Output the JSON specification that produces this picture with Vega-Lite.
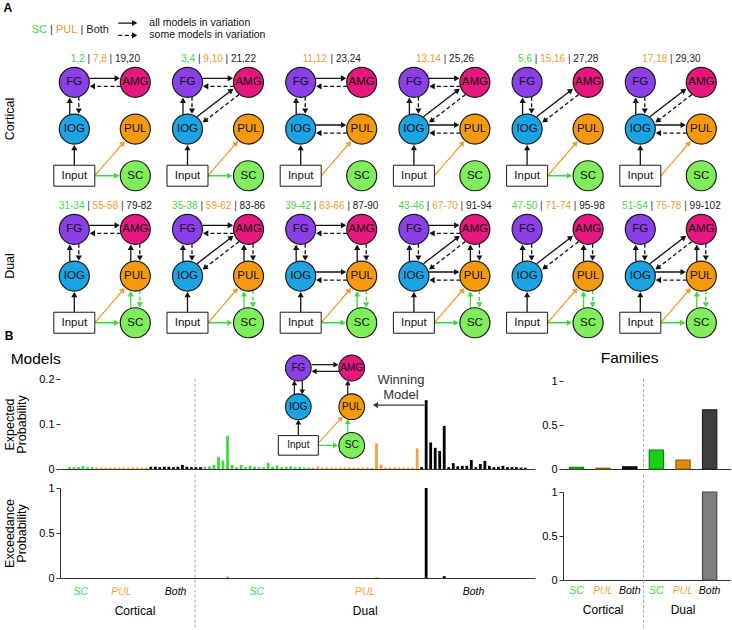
{
  "$schema": "https://vega.github.io/schema/vega-lite/v6.json",
  "padding": {"left": 3, "top": 2, "right": 0, "bottom": 0},
  "config": {
    "view": {"stroke": null},
    "font": "Liberation Sans",
    "axis": {"labelFont": "Liberation Sans", "titleFont": "Liberation Sans", "labelFontSize": 11, "labelColor": "#000", "titleColor": "#000", "titleFontWeight": "normal", "titleFontSize": 12.5, "domainColor": "#333", "tickColor": "#333", "tickSize": 4, "grid": false, "labelPadding": 2},
    "title": {"font": "Liberation Sans", "color": "#000"},
    "header": {"labelFont": "Liberation Sans", "labelColor": "#000"},
    "text": {"font": "Liberation Sans"}
  },
  "resolve": {"scale": {"color": "independent", "fill": "independent", "stroke": "independent", "strokeDash": "independent"}},
  "datasets": {
    "diagrams": [
      {"kind": "legend", "family": "Cortical", "variation": 1, "sc": "SC", "pul": "PUL", "both": "Both", "notes": ["all models in variation", "some models in variation"], "items": ["L:LG", "LgSolid", "LgDashed"]},
      {"kind": "diagram", "family": "Cortical", "variation": 1, "sc": "1,2", "pul": "7,8", "both": "19,20", "items": ["FG", "AMG", "IOG", "PUL", "SC", "Input", "L:D", "FG>AMG", "AMG>FG", "IOG>FG", "FG>IOG", "In>IOG", "In>PUL", "In>SC"]},
      {"kind": "diagram", "family": "Cortical", "variation": 2, "sc": "3,4", "pul": "9,10", "both": "21,22", "items": ["FG", "AMG", "IOG", "PUL", "SC", "Input", "L:D", "FG>AMG", "AMG>FG", "IOG>FG", "FG>IOG", "IOG>AMG", "AMG>IOG", "In>IOG", "In>PUL", "In>SC"]},
      {"kind": "diagram", "family": "Cortical", "variation": 3, "sc": "", "pul": "11,12", "both": "23,24", "items": ["FG", "AMG", "IOG", "PUL", "SC", "Input", "L:D", "FG>AMG", "AMG>FG", "IOG>FG", "FG>IOG", "IOG>PUL", "PUL>IOG", "In>IOG", "In>PUL"]},
      {"kind": "diagram", "family": "Cortical", "variation": 4, "sc": "", "pul": "13,14", "both": "25,26", "items": ["FG", "AMG", "IOG", "PUL", "SC", "Input", "L:D", "FG>AMG", "AMG>FG", "IOG>FG", "FG>IOG", "IOG>AMG", "AMG>IOG", "IOG>PUL", "PUL>IOG", "In>IOG", "In>PUL"]},
      {"kind": "diagram", "family": "Cortical", "variation": 5, "sc": "5,6", "pul": "15,16", "both": "27,28", "items": ["FG", "AMG", "IOG", "PUL", "SC", "Input", "L:D", "IOG>FG", "FG>IOG", "IOG>AMG", "AMG>IOG", "In>IOG", "In>PUL", "In>SC"]},
      {"kind": "diagram", "family": "Cortical", "variation": 6, "sc": "", "pul": "17,18", "both": "29,30", "items": ["FG", "AMG", "IOG", "PUL", "SC", "Input", "L:D", "IOG>FG", "FG>IOG", "IOG>AMG", "AMG>IOG", "IOG>PUL", "PUL>IOG", "In>IOG", "In>PUL"]},
      {"kind": "diagram", "family": "Dual", "variation": 1, "sc": "31-34", "pul": "55-58", "both": "79-82", "items": ["FG", "AMG", "IOG", "PUL", "SC", "Input", "L:D", "FG>AMG", "AMG>FG", "IOG>FG", "FG>IOG", "PUL>AMG", "AMG>PUL", "SC>PUL", "PUL>SC", "In>IOG", "In>PUL", "In>SC"]},
      {"kind": "diagram", "family": "Dual", "variation": 2, "sc": "35-38", "pul": "59-62", "both": "83-86", "items": ["FG", "AMG", "IOG", "PUL", "SC", "Input", "L:D", "FG>AMG", "AMG>FG", "IOG>FG", "FG>IOG", "IOG>AMG", "AMG>IOG", "PUL>AMG", "AMG>PUL", "SC>PUL", "PUL>SC", "In>IOG", "In>PUL", "In>SC"]},
      {"kind": "diagram", "family": "Dual", "variation": 3, "sc": "39-42", "pul": "63-66", "both": "87-90", "items": ["FG", "AMG", "IOG", "PUL", "SC", "Input", "L:D", "FG>AMG", "AMG>FG", "IOG>FG", "FG>IOG", "IOG>PUL", "PUL>IOG", "PUL>AMG", "AMG>PUL", "SC>PUL", "PUL>SC", "In>IOG", "In>PUL", "In>SC"]},
      {"kind": "diagram", "family": "Dual", "variation": 4, "sc": "43-46", "pul": "67-70", "both": "91-94", "items": ["FG", "AMG", "IOG", "PUL", "SC", "Input", "L:D", "FG>AMG", "AMG>FG", "IOG>FG", "FG>IOG", "IOG>AMG", "AMG>IOG", "IOG>PUL", "PUL>IOG", "PUL>AMG", "AMG>PUL", "SC>PUL", "PUL>SC", "In>IOG", "In>PUL", "In>SC"]},
      {"kind": "diagram", "family": "Dual", "variation": 5, "sc": "47-50", "pul": "71-74", "both": "95-98", "items": ["FG", "AMG", "IOG", "PUL", "SC", "Input", "L:D", "IOG>FG", "FG>IOG", "IOG>AMG", "AMG>IOG", "PUL>AMG", "AMG>PUL", "SC>PUL", "PUL>SC", "In>IOG", "In>PUL", "In>SC"]},
      {"kind": "diagram", "family": "Dual", "variation": 6, "sc": "51-54", "pul": "75-78", "both": "99-102", "items": ["FG", "AMG", "IOG", "PUL", "SC", "Input", "L:D", "IOG>FG", "FG>IOG", "IOG>AMG", "AMG>IOG", "IOG>PUL", "PUL>IOG", "PUL>AMG", "AMG>PUL", "SC>PUL", "PUL>SC", "In>IOG", "In>PUL", "In>SC"]}
    ],
    "partLayout": [
      {"item": "FG", "part": "circle", "gx": 0, "gy": 0},
      {"item": "AMG", "part": "circle", "gx": 1, "gy": 0},
      {"item": "IOG", "part": "circle", "gx": 0, "gy": 1},
      {"item": "PUL", "part": "circle", "gx": 1, "gy": 1},
      {"item": "SC", "part": "circle", "gx": 1, "gy": 2},
      {"item": "Input", "part": "box", "gx": 0, "gy": 2},
      {"item": "L:D", "part": "label", "lc": 0.51, "ly": -0.5, "fs": 10},
      {"item": "L:LG", "part": "label", "lx": -0.698, "ly": -1.12, "fs": 11},
      {"item": "FG>AMG", "part": "edge", "x1": 0.246, "y1": -0.086, "x2": 0.703, "y2": -0.086, "ang": 90, "style": "solid", "tone": "k"},
      {"item": "AMG>FG", "part": "edge", "x1": 0.762, "y1": 0.086, "x2": 0.297, "y2": 0.086, "ang": 270, "style": "dashed", "tone": "k"},
      {"item": "IOG>FG", "part": "edge", "x1": -0.074, "y1": 0.694, "x2": -0.074, "y2": 0.383, "ang": 0, "style": "solid", "tone": "k"},
      {"item": "FG>IOG", "part": "edge", "x1": 0.074, "y1": 0.306, "x2": 0.074, "y2": 0.617, "ang": 180, "style": "dashed", "tone": "k"},
      {"item": "IOG>AMG", "part": "edge", "x1": 0.156, "y1": 0.737, "x2": 0.718, "y2": 0.173, "ang": 52.6, "style": "solid", "tone": "k"},
      {"item": "AMG>IOG", "part": "edge", "x1": 0.844, "y1": 0.263, "x2": 0.282, "y2": 0.827, "ang": 232.6, "style": "dashed", "tone": "k"},
      {"item": "IOG>PUL", "part": "edge", "x1": 0.238, "y1": 0.914, "x2": 0.703, "y2": 0.914, "ang": 90, "style": "solid", "tone": "k"},
      {"item": "PUL>IOG", "part": "edge", "x1": 0.762, "y1": 1.086, "x2": 0.297, "y2": 1.086, "ang": 270, "style": "dashed", "tone": "k"},
      {"item": "PUL>AMG", "part": "edge", "x1": 0.926, "y1": 0.694, "x2": 0.926, "y2": 0.383, "ang": 0, "style": "solid", "tone": "k"},
      {"item": "AMG>PUL", "part": "edge", "x1": 1.074, "y1": 0.306, "x2": 1.074, "y2": 0.617, "ang": 180, "style": "dashed", "tone": "k"},
      {"item": "SC>PUL", "part": "edge", "x1": 0.926, "y1": 1.694, "x2": 0.926, "y2": 1.383, "ang": 0, "style": "solid", "tone": "g"},
      {"item": "PUL>SC", "part": "edge", "x1": 1.074, "y1": 1.306, "x2": 1.074, "y2": 1.617, "ang": 180, "style": "dashed", "tone": "g"},
      {"item": "In>IOG", "part": "edge", "x1": 0, "y1": 1.775, "x2": 0, "y2": 1.398, "ang": 0, "style": "solid", "tone": "k"},
      {"item": "In>PUL", "part": "edge", "x1": 0.336, "y1": 2, "x2": 0.8, "y2": 1.3, "ang": 40.9, "style": "solid", "tone": "o"},
      {"item": "In>SC", "part": "edge", "x1": 0.336, "y1": 2, "x2": 0.695, "y2": 2, "ang": 90, "style": "solid", "tone": "g"},
      {"item": "LgSolid", "part": "edge", "x1": 0.721, "y1": -1.27, "x2": 0.99, "y2": -1.27, "ang": 90, "style": "solid", "tone": "k", "idx": 0},
      {"item": "LgDashed", "part": "edge", "x1": 0.721, "y1": -1.006, "x2": 0.99, "y2": -1.006, "ang": 90, "style": "dashed", "tone": "k", "idx": 1}
    ],
    "insetNodes": [{"item": "FG"}, {"item": "AMG"}, {"item": "IOG"}, {"item": "PUL"}, {"item": "SC"}, {"item": "Input"}],
    "insetEdges": [{"item": "FG>AMG"}, {"item": "AMG>FG"}, {"item": "IOG>FG"}, {"item": "FG>IOG"}, {"item": "PUL>AMG"}, {"item": "SC>PUL"}, {"item": "In>IOG"}, {"item": "In>PUL"}, {"item": "In>SC"}],
    "families": [
      {"group": "Cortical SC", "family": "Cortical", "sub": "SC", "expected": 0.02, "exceedance": 0},
      {"group": "Cortical PUL", "family": "Cortical", "sub": "PUL", "expected": 0.008, "exceedance": 0},
      {"group": "Cortical Both", "family": "Cortical", "sub": "Both", "expected": 0.025, "exceedance": 0},
      {"group": "Dual SC", "family": "Dual", "sub": "SC", "expected": 0.215, "exceedance": 0},
      {"group": "Dual PUL", "family": "Dual", "sub": "PUL", "expected": 0.1, "exceedance": 0},
      {"group": "Dual Both", "family": "Dual", "sub": "Both", "expected": 0.673, "exceedance": 1}
    ],
    "models": [
      {"model": 1, "family": "Cortical", "sub": "SC", "expected": 0.004, "exceedance": 0},
      {"model": 2, "family": "Cortical", "sub": "SC", "expected": 0.004, "exceedance": 0},
      {"model": 3, "family": "Cortical", "sub": "SC", "expected": 0.004, "exceedance": 0},
      {"model": 4, "family": "Cortical", "sub": "SC", "expected": 0.007, "exceedance": 0},
      {"model": 5, "family": "Cortical", "sub": "SC", "expected": 0.004, "exceedance": 0},
      {"model": 6, "family": "Cortical", "sub": "SC", "expected": 0.004, "exceedance": 0},
      {"model": 7, "family": "Cortical", "sub": "PUL", "expected": 0.003, "exceedance": 0},
      {"model": 8, "family": "Cortical", "sub": "PUL", "expected": 0.003, "exceedance": 0},
      {"model": 9, "family": "Cortical", "sub": "PUL", "expected": 0.003, "exceedance": 0},
      {"model": 10, "family": "Cortical", "sub": "PUL", "expected": 0.003, "exceedance": 0},
      {"model": 11, "family": "Cortical", "sub": "PUL", "expected": 0.003, "exceedance": 0},
      {"model": 12, "family": "Cortical", "sub": "PUL", "expected": 0.003, "exceedance": 0},
      {"model": 13, "family": "Cortical", "sub": "PUL", "expected": 0.003, "exceedance": 0},
      {"model": 14, "family": "Cortical", "sub": "PUL", "expected": 0.003, "exceedance": 0},
      {"model": 15, "family": "Cortical", "sub": "PUL", "expected": 0.003, "exceedance": 0},
      {"model": 16, "family": "Cortical", "sub": "PUL", "expected": 0.003, "exceedance": 0},
      {"model": 17, "family": "Cortical", "sub": "PUL", "expected": 0.003, "exceedance": 0},
      {"model": 18, "family": "Cortical", "sub": "PUL", "expected": 0.003, "exceedance": 0},
      {"model": 19, "family": "Cortical", "sub": "Both", "expected": 0.005, "exceedance": 0},
      {"model": 20, "family": "Cortical", "sub": "Both", "expected": 0.005, "exceedance": 0},
      {"model": 21, "family": "Cortical", "sub": "Both", "expected": 0.004, "exceedance": 0},
      {"model": 22, "family": "Cortical", "sub": "Both", "expected": 0.005, "exceedance": 0},
      {"model": 23, "family": "Cortical", "sub": "Both", "expected": 0.005, "exceedance": 0},
      {"model": 24, "family": "Cortical", "sub": "Both", "expected": 0.004, "exceedance": 0},
      {"model": 25, "family": "Cortical", "sub": "Both", "expected": 0.005, "exceedance": 0},
      {"model": 26, "family": "Cortical", "sub": "Both", "expected": 0.009, "exceedance": 0},
      {"model": 27, "family": "Cortical", "sub": "Both", "expected": 0.005, "exceedance": 0},
      {"model": 28, "family": "Cortical", "sub": "Both", "expected": 0.004, "exceedance": 0},
      {"model": 29, "family": "Cortical", "sub": "Both", "expected": 0.004, "exceedance": 0},
      {"model": 30, "family": "Cortical", "sub": "Both", "expected": 0.004, "exceedance": 0},
      {"model": 31, "family": "Dual", "sub": "SC", "expected": 0.005, "exceedance": 0},
      {"model": 32, "family": "Dual", "sub": "SC", "expected": 0.006, "exceedance": 0},
      {"model": 33, "family": "Dual", "sub": "SC", "expected": 0.009, "exceedance": 0},
      {"model": 34, "family": "Dual", "sub": "SC", "expected": 0.027, "exceedance": 0},
      {"model": 35, "family": "Dual", "sub": "SC", "expected": 0.019, "exceedance": 0},
      {"model": 36, "family": "Dual", "sub": "SC", "expected": 0.074, "exceedance": 0.015},
      {"model": 37, "family": "Dual", "sub": "SC", "expected": 0.009, "exceedance": 0},
      {"model": 38, "family": "Dual", "sub": "SC", "expected": 0.004, "exceedance": 0},
      {"model": 39, "family": "Dual", "sub": "SC", "expected": 0.009, "exceedance": 0},
      {"model": 40, "family": "Dual", "sub": "SC", "expected": 0.004, "exceedance": 0},
      {"model": 41, "family": "Dual", "sub": "SC", "expected": 0.007, "exceedance": 0},
      {"model": 42, "family": "Dual", "sub": "SC", "expected": 0.005, "exceedance": 0},
      {"model": 43, "family": "Dual", "sub": "SC", "expected": 0.004, "exceedance": 0},
      {"model": 44, "family": "Dual", "sub": "SC", "expected": 0.004, "exceedance": 0},
      {"model": 45, "family": "Dual", "sub": "SC", "expected": 0.014, "exceedance": 0},
      {"model": 46, "family": "Dual", "sub": "SC", "expected": 0.005, "exceedance": 0},
      {"model": 47, "family": "Dual", "sub": "SC", "expected": 0.008, "exceedance": 0},
      {"model": 48, "family": "Dual", "sub": "SC", "expected": 0.004, "exceedance": 0},
      {"model": 49, "family": "Dual", "sub": "SC", "expected": 0.005, "exceedance": 0},
      {"model": 50, "family": "Dual", "sub": "SC", "expected": 0.006, "exceedance": 0},
      {"model": 51, "family": "Dual", "sub": "SC", "expected": 0.004, "exceedance": 0},
      {"model": 52, "family": "Dual", "sub": "SC", "expected": 0.004, "exceedance": 0},
      {"model": 53, "family": "Dual", "sub": "SC", "expected": 0.003, "exceedance": 0},
      {"model": 54, "family": "Dual", "sub": "SC", "expected": 0.003, "exceedance": 0},
      {"model": 55, "family": "Dual", "sub": "PUL", "expected": 0.003, "exceedance": 0},
      {"model": 56, "family": "Dual", "sub": "PUL", "expected": 0.006, "exceedance": 0},
      {"model": 57, "family": "Dual", "sub": "PUL", "expected": 0.003, "exceedance": 0},
      {"model": 58, "family": "Dual", "sub": "PUL", "expected": 0.003, "exceedance": 0},
      {"model": 59, "family": "Dual", "sub": "PUL", "expected": 0.003, "exceedance": 0},
      {"model": 60, "family": "Dual", "sub": "PUL", "expected": 0.003, "exceedance": 0},
      {"model": 61, "family": "Dual", "sub": "PUL", "expected": 0.003, "exceedance": 0},
      {"model": 62, "family": "Dual", "sub": "PUL", "expected": 0.003, "exceedance": 0},
      {"model": 63, "family": "Dual", "sub": "PUL", "expected": 0.003, "exceedance": 0},
      {"model": 64, "family": "Dual", "sub": "PUL", "expected": 0.003, "exceedance": 0},
      {"model": 65, "family": "Dual", "sub": "PUL", "expected": 0.003, "exceedance": 0},
      {"model": 66, "family": "Dual", "sub": "PUL", "expected": 0.003, "exceedance": 0},
      {"model": 67, "family": "Dual", "sub": "PUL", "expected": 0.003, "exceedance": 0},
      {"model": 68, "family": "Dual", "sub": "PUL", "expected": 0.003, "exceedance": 0},
      {"model": 69, "family": "Dual", "sub": "PUL", "expected": 0.057, "exceedance": 0.01},
      {"model": 70, "family": "Dual", "sub": "PUL", "expected": 0.01, "exceedance": 0},
      {"model": 71, "family": "Dual", "sub": "PUL", "expected": 0.003, "exceedance": 0},
      {"model": 72, "family": "Dual", "sub": "PUL", "expected": 0.003, "exceedance": 0},
      {"model": 73, "family": "Dual", "sub": "PUL", "expected": 0.003, "exceedance": 0},
      {"model": 74, "family": "Dual", "sub": "PUL", "expected": 0.003, "exceedance": 0},
      {"model": 75, "family": "Dual", "sub": "PUL", "expected": 0.003, "exceedance": 0},
      {"model": 76, "family": "Dual", "sub": "PUL", "expected": 0.003, "exceedance": 0},
      {"model": 77, "family": "Dual", "sub": "PUL", "expected": 0.003, "exceedance": 0},
      {"model": 78, "family": "Dual", "sub": "PUL", "expected": 0.046, "exceedance": 0},
      {"model": 79, "family": "Dual", "sub": "Both", "expected": 0.004, "exceedance": 0},
      {"model": 80, "family": "Dual", "sub": "Both", "expected": 0.153, "exceedance": 1},
      {"model": 81, "family": "Dual", "sub": "Both", "expected": 0.059, "exceedance": 0},
      {"model": 82, "family": "Dual", "sub": "Both", "expected": 0.047, "exceedance": 0},
      {"model": 83, "family": "Dual", "sub": "Both", "expected": 0.04, "exceedance": 0},
      {"model": 84, "family": "Dual", "sub": "Both", "expected": 0.096, "exceedance": 0.02},
      {"model": 85, "family": "Dual", "sub": "Both", "expected": 0.004, "exceedance": 0},
      {"model": 86, "family": "Dual", "sub": "Both", "expected": 0.013, "exceedance": 0},
      {"model": 87, "family": "Dual", "sub": "Both", "expected": 0.006, "exceedance": 0},
      {"model": 88, "family": "Dual", "sub": "Both", "expected": 0.007, "exceedance": 0},
      {"model": 89, "family": "Dual", "sub": "Both", "expected": 0.007, "exceedance": 0},
      {"model": 90, "family": "Dual", "sub": "Both", "expected": 0.02, "exceedance": 0},
      {"model": 91, "family": "Dual", "sub": "Both", "expected": 0.004, "exceedance": 0},
      {"model": 92, "family": "Dual", "sub": "Both", "expected": 0.011, "exceedance": 0},
      {"model": 93, "family": "Dual", "sub": "Both", "expected": 0.018, "exceedance": 0},
      {"model": 94, "family": "Dual", "sub": "Both", "expected": 0.007, "exceedance": 0},
      {"model": 95, "family": "Dual", "sub": "Both", "expected": 0.004, "exceedance": 0},
      {"model": 96, "family": "Dual", "sub": "Both", "expected": 0.005, "exceedance": 0},
      {"model": 97, "family": "Dual", "sub": "Both", "expected": 0.007, "exceedance": 0},
      {"model": 98, "family": "Dual", "sub": "Both", "expected": 0.004, "exceedance": 0},
      {"model": 99, "family": "Dual", "sub": "Both", "expected": 0.004, "exceedance": 0},
      {"model": 100, "family": "Dual", "sub": "Both", "expected": 0.004, "exceedance": 0},
      {"model": 101, "family": "Dual", "sub": "Both", "expected": 0.003, "exceedance": 0},
      {"model": 102, "family": "Dual", "sub": "Both", "expected": 0.003, "exceedance": 0}
    ]
  },
  "spacing": -11,
  "vconcat": [
    {
      "data": {"name": "diagrams"},
      "transform": [
        {"flatten": ["items"], "as": ["item"]},
        {"lookup": "item", "from": {"data": {"name": "partLayout"}, "key": "item", "fields": ["part", "gx", "gy", "lx", "lc", "ly", "fs", "x1", "y1", "x2", "y2", "ang", "style", "tone", "idx"]}},
        {"calculate": "0.556*length(replace(datum.sc,regexp('[^0-9]','g'),''))+0.278*length(replace(datum.sc,regexp('[^,]','g'),''))+0.333*length(replace(datum.sc,regexp('[^-]','g'),''))+0.667*length(replace(datum.sc,regexp('[^SPB]','g'),''))+0.722*length(replace(datum.sc,regexp('[^CU]','g'),''))+0.556*length(replace(datum.sc,regexp('[^Loh]','g'),''))+0.278*length(replace(datum.sc,regexp('[^t]','g'),''))", "as": "wsc"},
        {"calculate": "0.556*length(replace(datum.pul,regexp('[^0-9]','g'),''))+0.278*length(replace(datum.pul,regexp('[^,]','g'),''))+0.333*length(replace(datum.pul,regexp('[^-]','g'),''))+0.667*length(replace(datum.pul,regexp('[^SPB]','g'),''))+0.722*length(replace(datum.pul,regexp('[^CU]','g'),''))+0.556*length(replace(datum.pul,regexp('[^Loh]','g'),''))+0.278*length(replace(datum.pul,regexp('[^t]','g'),''))", "as": "wpul"},
        {"calculate": "0.556*length(replace(datum.both,regexp('[^0-9]','g'),''))+0.278*length(replace(datum.both,regexp('[^,]','g'),''))+0.333*length(replace(datum.both,regexp('[^-]','g'),''))+0.667*length(replace(datum.both,regexp('[^SPB]','g'),''))+0.722*length(replace(datum.both,regexp('[^CU]','g'),''))+0.556*length(replace(datum.both,regexp('[^Loh]','g'),''))+0.278*length(replace(datum.both,regexp('[^t]','g'),''))", "as": "wboth"},
        {"calculate": "isValid(datum.lc) ? datum.lc - datum.fs*(datum.wsc + (datum.sc ? 0.816 : 0) + datum.wpul + 0.816 + datum.wboth)/122 : datum.lx", "as": "x0"},
        {"calculate": "datum.x0 + datum.fs*(datum.wsc + 0.278)/61", "as": "xs1"},
        {"calculate": "datum.sc ? datum.x0 + datum.fs*(datum.wsc + 0.816)/61 : datum.x0", "as": "xpul"},
        {"calculate": "datum.xpul + datum.fs*(datum.wpul + 0.278)/61", "as": "xs2"},
        {"calculate": "datum.xpul + datum.fs*(datum.wpul + 0.816)/61", "as": "xboth"}
      ],
      "title": {"text": "A", "anchor": "start", "fontSize": 12, "fontWeight": "bold", "offset": 3, "dx": 0},
      "facet": {
        "row": {"field": "family", "type": "nominal", "header": {"title": null, "labelAngle": -90, "labelAlign": "center", "labelFontSize": 12.5, "labelPadding": 38}},
        "column": {"field": "variation", "type": "ordinal", "header": null}
      },
      "spacing": {"row": 7, "column": 13.2},
      "bounds": "flush",
      "spec": {
        "width": 100,
        "height": 140,
        "layer": [
          {
            "transform": [{"filter": "datum.part === 'edge'"}],
            "mark": {"type": "rule", "strokeWidth": 1.3},
            "encoding": {
              "x": {"field": "x1", "type": "quantitative", "scale": {"domain": [-0.2344, 1.4049], "nice": false, "zero": false}, "axis": null},
              "y": {"field": "y1", "type": "quantitative", "scale": {"domain": [-0.714, 2.284], "nice": false, "zero": false, "reverse": true}, "axis": null},
              "x2": {"field": "x2"},
              "y2": {"field": "y2"},
              "stroke": {"field": "tone", "type": "nominal", "scale": {"domain": ["k", "o", "g"], "range": ["#111111", "#f39a2d", "#3ada3a"]}, "legend": null},
              "strokeDash": {"field": "style", "type": "nominal", "scale": {"domain": ["solid", "dashed"], "range": [[1, 0], [4, 2.5]]}, "legend": null}
            }
          },
          {
            "transform": [{"filter": "datum.part === 'edge'"}],
            "mark": {"type": "point", "shape": "triangle-up", "filled": true, "size": 38, "opacity": 1, "strokeWidth": 0},
            "encoding": {
              "x": {"field": "x2", "type": "quantitative", "scale": {"domain": [-0.2344, 1.4049], "nice": false, "zero": false}, "axis": null},
              "y": {"field": "y2", "type": "quantitative", "scale": {"domain": [-0.714, 2.284], "nice": false, "zero": false, "reverse": true}, "axis": null},
              "angle": {"field": "ang", "type": "quantitative", "scale": null},
              "fill": {"field": "tone", "type": "nominal", "scale": {"domain": ["k", "o", "g"], "range": ["#111111", "#f39a2d", "#3ada3a"]}, "legend": null}
            }
          },
          {
            "transform": [{"filter": "datum.part === 'circle'"}],
            "mark": {"type": "point", "shape": "circle", "filled": true, "size": 900, "opacity": 1, "stroke": "#1a1a1a", "strokeWidth": 1.2},
            "encoding": {
              "x": {"field": "gx", "type": "quantitative", "scale": {"domain": [-0.2344, 1.4049], "nice": false, "zero": false}, "axis": null},
              "y": {"field": "gy", "type": "quantitative", "scale": {"domain": [-0.714, 2.284], "nice": false, "zero": false, "reverse": true}, "axis": null},
              "color": {"field": "item", "type": "nominal", "scale": {"domain": ["FG", "AMG", "IOG", "PUL", "SC"], "range": ["#8b3fe6", "#e6177e", "#1ba3e3", "#f59a0c", "#80ee5c"]}, "legend": null}
            }
          },
          {
            "transform": [{"filter": "datum.part === 'box'"}],
            "mark": {"type": "point", "shape": "M-1,-0.512H1V0.512H-1Z", "filled": true, "size": 1681, "opacity": 1, "fill": "#ffffff", "stroke": "#1a1a1a", "strokeWidth": 1},
            "encoding": {
              "x": {"field": "gx", "type": "quantitative", "scale": {"domain": [-0.2344, 1.4049], "nice": false, "zero": false}, "axis": null},
              "y": {"field": "gy", "type": "quantitative", "scale": {"domain": [-0.714, 2.284], "nice": false, "zero": false, "reverse": true}, "axis": null}
            }
          },
          {
            "transform": [{"filter": "datum.part === 'circle' || datum.part === 'box'"}],
            "mark": {"type": "text", "fontSize": 11.5, "color": "#111111", "baseline": "middle", "align": "center"},
            "encoding": {
              "x": {"field": "gx", "type": "quantitative", "scale": {"domain": [-0.2344, 1.4049], "nice": false, "zero": false}, "axis": null},
              "y": {"field": "gy", "type": "quantitative", "scale": {"domain": [-0.714, 2.284], "nice": false, "zero": false, "reverse": true}, "axis": null},
              "text": {"field": "item"}
            }
          },
          {
            "transform": [{"filter": "datum.part === 'label' && datum.sc"}],
            "mark": {"type": "text", "align": "left", "baseline": "middle", "color": "#45d545"},
            "encoding": {
              "x": {"field": "x0", "type": "quantitative", "scale": {"domain": [-0.2344, 1.4049], "nice": false, "zero": false}, "axis": null},
              "y": {"field": "ly", "type": "quantitative", "scale": {"domain": [-0.714, 2.284], "nice": false, "zero": false, "reverse": true}, "axis": null},
              "text": {"field": "sc"},
              "size": {"field": "fs", "type": "quantitative", "scale": null}
            }
          },
          {
            "transform": [{"filter": "datum.part === 'label' && datum.sc"}],
            "mark": {"type": "text", "align": "left", "baseline": "middle", "color": "#333333", "text": "|"},
            "encoding": {
              "x": {"field": "xs1", "type": "quantitative", "scale": {"domain": [-0.2344, 1.4049], "nice": false, "zero": false}, "axis": null},
              "y": {"field": "ly", "type": "quantitative", "scale": {"domain": [-0.714, 2.284], "nice": false, "zero": false, "reverse": true}, "axis": null},
              "size": {"field": "fs", "type": "quantitative", "scale": null}
            }
          },
          {
            "transform": [{"filter": "datum.part === 'label'"}],
            "mark": {"type": "text", "align": "left", "baseline": "middle", "color": "#f09a30"},
            "encoding": {
              "x": {"field": "xpul", "type": "quantitative", "scale": {"domain": [-0.2344, 1.4049], "nice": false, "zero": false}, "axis": null},
              "y": {"field": "ly", "type": "quantitative", "scale": {"domain": [-0.714, 2.284], "nice": false, "zero": false, "reverse": true}, "axis": null},
              "text": {"field": "pul"},
              "size": {"field": "fs", "type": "quantitative", "scale": null}
            }
          },
          {
            "transform": [{"filter": "datum.part === 'label'"}],
            "mark": {"type": "text", "align": "left", "baseline": "middle", "color": "#333333", "text": "|"},
            "encoding": {
              "x": {"field": "xs2", "type": "quantitative", "scale": {"domain": [-0.2344, 1.4049], "nice": false, "zero": false}, "axis": null},
              "y": {"field": "ly", "type": "quantitative", "scale": {"domain": [-0.714, 2.284], "nice": false, "zero": false, "reverse": true}, "axis": null},
              "size": {"field": "fs", "type": "quantitative", "scale": null}
            }
          },
          {
            "transform": [{"filter": "datum.part === 'label'"}],
            "mark": {"type": "text", "align": "left", "baseline": "middle", "color": "#1a1a1a"},
            "encoding": {
              "x": {"field": "xboth", "type": "quantitative", "scale": {"domain": [-0.2344, 1.4049], "nice": false, "zero": false}, "axis": null},
              "y": {"field": "ly", "type": "quantitative", "scale": {"domain": [-0.714, 2.284], "nice": false, "zero": false, "reverse": true}, "axis": null},
              "text": {"field": "both"},
              "size": {"field": "fs", "type": "quantitative", "scale": null}
            }
          },
          {
            "transform": [{"filter": "datum.kind === 'legend' && datum.part === 'edge'"}, {"calculate": "datum.notes[datum.idx]", "as": "note"}],
            "mark": {"type": "text", "align": "left", "baseline": "middle", "dx": 14.6, "fontSize": 10.5, "color": "#111111"},
            "encoding": {
              "x": {"field": "x2", "type": "quantitative", "scale": {"domain": [-0.2344, 1.4049], "nice": false, "zero": false}, "axis": null},
              "y": {"field": "y2", "type": "quantitative", "scale": {"domain": [-0.714, 2.284], "nice": false, "zero": false, "reverse": true}, "axis": null},
              "text": {"field": "note"}
            }
          }
        ]
      }
    },
    {
      "title": {"text": "B", "anchor": "start", "fontSize": 12, "fontWeight": "bold", "offset": 8, "dx": 1},
      "spacing": 6,
      "hconcat": [
        {
          "spacing": 0,
          "vconcat": [
            {
              "width": 475,
              "height": 90,
              "title": {"text": "Models", "anchor": "start", "fontSize": 15.5, "fontWeight": "normal", "offset": 0, "dx": 7, "dy": 26.7, "baseline": "alphabetic"},
              "resolve": {"scale": {"x": "independent", "y": "independent", "color": "independent", "fill": "independent", "stroke": "independent"}},
              "layer": [
                {
                  "layer": [
                    {
                      "data": {"name": "models"},
                      "mark": {"type": "bar", "orient": "vertical", "width": 2.8},
                      "encoding": {
                        "x": {"field": "model", "type": "quantitative", "scale": {"domain": [0, 103], "nice": false, "zero": false}, "axis": {"labels": false, "ticks": false, "title": null}},
                        "y": {"field": "expected", "type": "quantitative", "scale": {"domain": [0, 0.2], "nice": false}, "axis": {"values": [0, 0.1, 0.2], "format": "~g", "domain": false, "title": ["Expected", "Probability"], "titlePadding": 10, "titleLineHeight": 12}},
                        "color": {"field": "sub", "type": "nominal", "scale": {"domain": ["SC", "PUL", "Both"], "range": ["#3ddc3d", "#f5a23a", "#000000"]}, "legend": null}
                      }
                    },
                    {
                      "data": {"values": [{}]},
                      "mark": {"type": "rule", "color": "#aaaaaa", "strokeDash": [3, 2], "strokeWidth": 1},
                      "encoding": {"x": {"datum": 28.8}, "y": {"datum": 0.2}, "y2": {"datum": 0}}
                    },
                    {
                      "data": {"values": [{}]},
                      "mark": {"type": "rule", "color": "#3a3a3a", "strokeWidth": 1.2},
                      "encoding": {"x": {"datum": 79.7}, "x2": {"datum": 68.8}, "y": {"datum": 0.142}}
                    },
                    {
                      "data": {"values": [{}]},
                      "mark": {"type": "point", "shape": "triangle-up", "angle": 270, "filled": true, "size": 38, "opacity": 1, "color": "#3a3a3a"},
                      "encoding": {"x": {"datum": 68.76}, "y": {"datum": 0.142}}
                    },
                    {
                      "data": {"values": [{}]},
                      "mark": {"type": "text", "text": ["Winning", "Model"], "fontSize": 13, "lineHeight": 15, "color": "#333333", "baseline": "middle", "align": "center"},
                      "encoding": {"x": {"datum": 74.4}, "y": {"datum": 0.198}}
                    }
                  ]
                },
                {
                  "layer": [
                    {
                      "data": {"name": "insetEdges"},
                      "transform": [{"lookup": "item", "from": {"data": {"name": "partLayout"}, "key": "item", "fields": ["x1", "y1", "x2", "y2", "ang", "tone"]}}],
                      "mark": {"type": "rule", "strokeWidth": 1.2},
                      "encoding": {
                        "x": {"field": "x1", "type": "quantitative", "scale": {"domain": [-4.463, 4.432], "nice": false, "zero": false}, "axis": null},
                        "y": {"field": "y1", "type": "quantitative", "scale": {"domain": [0.284, 2.61], "nice": false, "zero": false, "reverse": true}, "axis": null},
                        "x2": {"field": "x2"},
                        "y2": {"field": "y2"},
                        "stroke": {"field": "tone", "type": "nominal", "scale": {"domain": ["k", "o", "g"], "range": ["#111111", "#f39a2d", "#3ada3a"]}, "legend": null}
                      }
                    },
                    {
                      "data": {"name": "insetEdges"},
                      "transform": [{"lookup": "item", "from": {"data": {"name": "partLayout"}, "key": "item", "fields": ["x1", "y1", "x2", "y2", "ang", "tone"]}}],
                      "mark": {"type": "point", "shape": "triangle-up", "filled": true, "size": 32, "opacity": 1, "strokeWidth": 0},
                      "encoding": {
                        "x": {"field": "x2", "type": "quantitative", "scale": {"domain": [-4.463, 4.432], "nice": false, "zero": false}, "axis": null},
                        "y": {"field": "y2", "type": "quantitative", "scale": {"domain": [0.284, 2.61], "nice": false, "zero": false, "reverse": true}, "axis": null},
                        "angle": {"field": "ang", "type": "quantitative", "scale": null},
                        "fill": {"field": "tone", "type": "nominal", "scale": {"domain": ["k", "o", "g"], "range": ["#111111", "#f39a2d", "#3ada3a"]}, "legend": null}
                      }
                    },
                    {
                      "data": {"name": "insetNodes"},
                      "transform": [{"filter": "datum.item !== 'Input'"}, {"lookup": "item", "from": {"data": {"name": "partLayout"}, "key": "item", "fields": ["gx", "gy"]}}],
                      "mark": {"type": "point", "shape": "circle", "filled": true, "size": 660, "opacity": 1, "stroke": "#1a1a1a", "strokeWidth": 1.1},
                      "encoding": {
                        "x": {"field": "gx", "type": "quantitative", "scale": {"domain": [-4.463, 4.432], "nice": false, "zero": false}, "axis": null},
                        "y": {"field": "gy", "type": "quantitative", "scale": {"domain": [0.284, 2.61], "nice": false, "zero": false, "reverse": true}, "axis": null},
                        "color": {"field": "item", "type": "nominal", "scale": {"domain": ["FG", "AMG", "IOG", "PUL", "SC"], "range": ["#8b3fe6", "#e6177e", "#1ba3e3", "#f59a0c", "#80ee5c"]}, "legend": null}
                      }
                    },
                    {
                      "data": {"name": "insetNodes"},
                      "transform": [{"filter": "datum.item === 'Input'"}, {"lookup": "item", "from": {"data": {"name": "partLayout"}, "key": "item", "fields": ["gx", "gy"]}}],
                      "mark": {"type": "point", "shape": "M-1,-0.49H1V0.49H-1Z", "filled": true, "size": 1600, "opacity": 1, "fill": "#ffffff", "stroke": "#1a1a1a", "strokeWidth": 1},
                      "encoding": {
                        "x": {"field": "gx", "type": "quantitative", "scale": {"domain": [-4.463, 4.432], "nice": false, "zero": false}, "axis": null},
                        "y": {"field": "gy", "type": "quantitative", "scale": {"domain": [0.284, 2.61], "nice": false, "zero": false, "reverse": true}, "axis": null}
                      }
                    },
                    {
                      "data": {"name": "insetNodes"},
                      "transform": [{"lookup": "item", "from": {"data": {"name": "partLayout"}, "key": "item", "fields": ["gx", "gy"]}}],
                      "mark": {"type": "text", "fontSize": 10, "color": "#111111", "baseline": "middle", "align": "center"},
                      "encoding": {
                        "x": {"field": "gx", "type": "quantitative", "scale": {"domain": [-4.463, 4.432], "nice": false, "zero": false}, "axis": null},
                        "y": {"field": "gy", "type": "quantitative", "scale": {"domain": [0.284, 2.61], "nice": false, "zero": false, "reverse": true}, "axis": null},
                        "text": {"field": "item"}
                      }
                    }
                  ]
                }
              ]
            },
            {
              "width": 475,
              "height": 90,
              "layer": [
                {
                  "data": {"name": "models"},
                  "mark": {"type": "bar", "orient": "vertical", "width": 2.8},
                  "encoding": {
                    "x": {"field": "model", "type": "quantitative", "scale": {"domain": [0, 103], "nice": false, "zero": false}, "axis": {"labels": false, "ticks": false, "title": null}},
                    "y": {"field": "exceedance", "type": "quantitative", "scale": {"domain": [0, 1], "nice": false}, "axis": {"values": [0, 0.5, 1], "format": "~g", "title": ["Exceedance", "Probability"], "titlePadding": 10, "titleLineHeight": 12}},
                    "color": {"field": "sub", "type": "nominal", "scale": {"domain": ["SC", "PUL", "Both"], "range": ["#3ddc3d", "#f5a23a", "#000000"]}, "legend": null}
                  }
                },
                {
                  "data": {"values": [{}]},
                  "mark": {"type": "rule", "color": "#aaaaaa", "strokeDash": [3, 2], "strokeWidth": 1},
                  "encoding": {"x": {"datum": 28.8}, "y": {"datum": 1.149}, "y2": {"datum": -0.57}}
                },
                {
                  "data": {"name": "models"},
                  "transform": [{"aggregate": [{"op": "mean", "field": "model", "as": "mid"}], "groupby": ["family", "sub"]}],
                  "mark": {"type": "text", "fontStyle": "italic", "fontSize": 10.5, "baseline": "middle", "align": "center"},
                  "encoding": {
                    "x": {"field": "mid", "type": "quantitative"},
                    "y": {"datum": -0.16},
                    "text": {"field": "sub"},
                    "color": {"field": "sub", "type": "nominal", "scale": {"domain": ["SC", "PUL", "Both"], "range": ["#3ddc3d", "#f5a23a", "#000000"]}, "legend": null}
                  }
                },
                {
                  "data": {"name": "models"},
                  "transform": [{"aggregate": [{"op": "mean", "field": "model", "as": "mid"}], "groupby": ["family"]}],
                  "mark": {"type": "text", "fontSize": 12, "baseline": "middle", "align": "center", "color": "#000000"},
                  "encoding": {
                    "x": {"field": "mid", "type": "quantitative"},
                    "y": {"datum": -0.371},
                    "text": {"field": "family"}
                  }
                }
              ]
            }
          ]
        },
        {
          "spacing": 0,
          "vconcat": [
            {
              "width": 168,
              "height": 90,
              "title": {"text": "Families", "anchor": "start", "fontSize": 15.5, "fontWeight": "normal", "offset": 0, "dx": 59, "dy": 3.7, "baseline": "alphabetic"},
              "layer": [
                {
                  "data": {"name": "families"},
                  "mark": {"type": "bar", "strokeWidth": 1.2},
                  "encoding": {
                    "x": {"field": "group", "type": "nominal", "scale": {"domain": ["Cortical SC", "Cortical PUL", "Cortical Both", "Dual SC", "Dual PUL", "Dual Both"], "paddingInner": 0.464, "paddingOuter": 0.387, "align": 0.31}, "axis": {"labels": false, "ticks": false, "title": null}},
                    "y": {"field": "expected", "type": "quantitative", "scale": {"domain": [0, 1.023], "nice": false}, "axis": {"values": [0, 0.5, 1], "format": "~g", "domain": false, "title": null}},
                    "fill": {"field": "group", "type": "nominal", "scale": {"domain": ["Cortical SC", "Cortical PUL", "Cortical Both", "Dual SC", "Dual PUL", "Dual Both"], "range": ["#19c419", "#cf7d05", "#141414", "#1bd01b", "#e08a10", "#3f3f3f"]}, "legend": null},
                    "stroke": {"field": "group", "type": "nominal", "scale": {"domain": ["Cortical SC", "Cortical PUL", "Cortical Both", "Dual SC", "Dual PUL", "Dual Both"], "range": ["#0d7d0d", "#8a5200", "#000000", "#0e850e", "#9a5c00", "#1f1f1f"]}, "legend": null}
                  }
                },
                {
                  "data": {"values": [{}]},
                  "mark": {"type": "rule", "color": "#aaaaaa", "strokeDash": [3, 2], "strokeWidth": 1, "xOffset": 13.8},
                  "encoding": {"x": {"datum": "Cortical Both"}, "y": {"datum": 1.023}, "y2": {"datum": 0}}
                }
              ]
            },
            {
              "width": 168,
              "height": 88,
              "layer": [
                {
                  "data": {"name": "families"},
                  "transform": [{"filter": "datum.exceedance > 0"}],
                  "mark": {"type": "bar", "fill": "#7f7f7f", "stroke": "#4a4a4a", "strokeWidth": 1.2},
                  "encoding": {
                    "x": {"field": "group", "type": "nominal", "scale": {"domain": ["Cortical SC", "Cortical PUL", "Cortical Both", "Dual SC", "Dual PUL", "Dual Both"], "paddingInner": 0.464, "paddingOuter": 0.387, "align": 0.31}, "axis": {"labels": false, "ticks": false, "title": null}},
                    "y": {"field": "exceedance", "type": "quantitative", "scale": {"domain": [0, 1], "nice": false}, "axis": {"values": [0, 0.5, 1], "format": "~g", "title": null}}
                  }
                },
                {
                  "data": {"values": [{}]},
                  "mark": {"type": "rule", "color": "#aaaaaa", "strokeDash": [3, 2], "strokeWidth": 1, "xOffset": 13.8},
                  "encoding": {"x": {"datum": "Cortical Both"}, "y": {"datum": 1.195}, "y2": {"datum": -0.58}}
                },
                {
                  "data": {"name": "families"},
                  "mark": {"type": "text", "fontStyle": "italic", "fontSize": 10.5, "baseline": "middle", "align": "center"},
                  "encoding": {
                    "x": {"field": "group", "type": "nominal"},
                    "y": {"datum": -0.125},
                    "text": {"field": "sub"},
                    "color": {"field": "sub", "type": "nominal", "scale": {"domain": ["SC", "PUL", "Both"], "range": ["#3ddc3d", "#f5a23a", "#000000"]}, "legend": null}
                  }
                },
                {
                  "data": {"name": "families"},
                  "transform": [{"filter": "datum.sub === 'PUL'"}],
                  "mark": {"type": "text", "fontSize": 12, "baseline": "middle", "align": "center", "color": "#000000"},
                  "encoding": {
                    "x": {"field": "group", "type": "nominal"},
                    "y": {"datum": -0.344},
                    "text": {"field": "family"}
                  }
                }
              ]
            }
          ]
        }
      ]
    }
  ]
}
